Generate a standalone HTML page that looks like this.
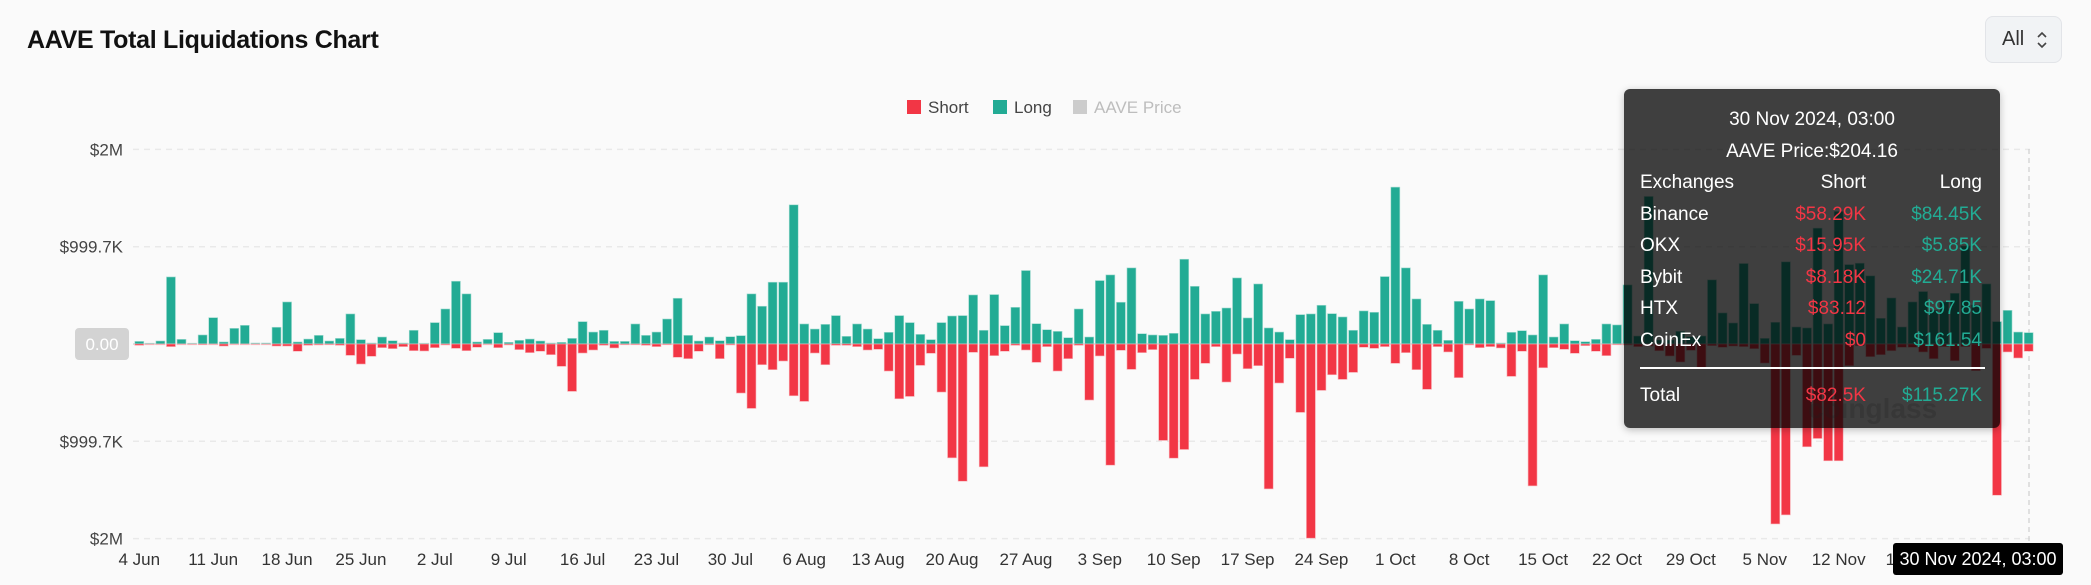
<!DOCTYPE html>
<html><head><meta charset="utf-8">
<style>
html,body{margin:0;padding:0;background:#fafafa;}
body{width:2091px;height:585px;position:relative;overflow:hidden;font-family:"Liberation Sans",sans-serif;}
#title{position:absolute;left:27px;top:26px;font-size:25px;font-weight:bold;color:#111;letter-spacing:-0.3px;}
#allbtn{position:absolute;left:1985px;top:16px;width:77px;height:47px;border:1px solid #e2e4e8;border-radius:8px;background:#f1f3f5;box-sizing:border-box;font-size:20px;color:#333;}
#allbtn span{position:absolute;left:16px;top:11px;}
#tooltip{position:absolute;left:1624px;top:89px;width:376px;height:339px;background:rgba(0,0,0,0.75);border-radius:6px;box-shadow:0 2px 8px rgba(0,0,0,0.25);color:#fff;font-size:19px;}
#tooltip div{position:absolute;white-space:nowrap;}
.r{color:#f23645}.g{color:#22ab94}
#badge{position:absolute;left:1893px;top:543px;width:170px;height:32px;background:#000;border-radius:3px;color:#fff;font-size:18px;line-height:32px;text-align:center;}
</style></head>
<body>
<div id="title">AAVE Total Liquidations Chart</div>
<div id="allbtn"><span>All</span>
<svg width="12" height="22" style="position:absolute;left:50px;top:12px"><path d="M2 8 L6 4 L10 8 M2 14 L6 18 L10 14" stroke="#444" stroke-width="1.6" fill="none"/></svg></div>
<svg id="chart" width="2091" height="585" style="position:absolute;left:0;top:0"></svg>
<div id="tooltip">
<div style="left:0;width:376px;text-align:center;top:20px">30 Nov 2024, 03:00</div>
<div style="left:0;width:376px;text-align:center;top:52px">AAVE Price:$204.16</div>
<div style="left:16px;top:83px">Exchanges</div><div style="right:134px;top:83px">Short</div><div style="right:18px;top:83px">Long</div>
<div style="left:16px;top:115px">Binance</div><div class="r" style="right:134px;top:115px">$58.29K</div><div class="g" style="right:18px;top:115px">$84.45K</div>
<div style="left:16px;top:146px">OKX</div><div class="r" style="right:134px;top:146px">$15.95K</div><div class="g" style="right:18px;top:146px">$5.85K</div>
<div style="left:16px;top:178px">Bybit</div><div class="r" style="right:134px;top:178px">$8.18K</div><div class="g" style="right:18px;top:178px">$24.71K</div>
<div style="left:16px;top:209px">HTX</div><div class="r" style="right:134px;top:209px">$83.12</div><div class="g" style="right:18px;top:209px">$97.85</div>
<div style="left:16px;top:241px">CoinEx</div><div class="r" style="right:134px;top:241px">$0</div><div class="g" style="right:18px;top:241px">$161.54</div>
<div style="left:16px;top:278px;width:345px;height:2px;background:#fff"></div>
<div style="left:16px;top:296px">Total</div><div class="r" style="right:134px;top:296px">$82.5K</div><div class="g" style="right:18px;top:296px">$115.27K</div>
</div>
<div id="badge">30 Nov 2024, 03:00</div>
<script>
const longVals=[27,7,31,689,48,7,93,271,21,161,192,10,10,172,432,21,51,89,31,58,309,45,10,72,34,10,141,7,220,360,645,515,21,48,117,17,38,51,31,10,17,58,230,123,141,27,27,206,89,123,257,470,89,31,72,34,75,86,515,388,635,635,1430,206,154,202,292,79,206,154,55,120,292,220,99,45,220,288,292,504,141,508,189,377,755,209,147,130,65,360,72,652,710,429,782,106,93,89,110,871,593,309,336,370,679,268,617,165,123,45,302,309,398,312,278,141,340,326,693,1612,782,463,202,141,38,439,360,463,446,10,120,137,93,710,72,206,34,24,48,206,196,607,82,1516,41,41,130,75,82,659,319,216,827,415,58,223,844,175,165,1190,206,1362,816,830,700,264,473,175,432,539,346,432,521,1008,401,617,230,346,123,117];
const shortVals=[14,0,0,27,0,0,7,0,21,0,0,0,0,21,21,75,14,10,7,14,117,206,127,38,48,27,69,72,38,10,45,69,34,0,38,10,58,89,75,110,230,487,93,62,14,41,7,7,14,27,7,137,151,75,7,151,10,504,662,213,264,175,532,590,93,213,14,14,27,62,55,278,563,539,220,96,494,1170,1410,86,1262,120,75,14,62,189,27,278,151,14,576,123,1245,65,261,89,58,991,1173,1084,364,199,27,391,103,254,223,1489,401,147,703,1995,477,316,364,292,34,45,27,199,89,264,466,27,82,346,10,38,27,41,333,75,1458,244,38,55,96,17,75,120,7,10,27,21,69,123,185,65,240,17,34,21,27,48,196,1849,1756,117,1056,971,1200,1200,223,17,130,110,69,34,34,82,151,27,172,27,274,45,1554,82,144,75];
const tickLabels=['4 Jun','11 Jun','18 Jun','25 Jun','2 Jul','9 Jul','16 Jul','23 Jul','30 Jul','6 Aug','13 Aug','20 Aug','27 Aug','3 Sep','10 Sep','17 Sep','24 Sep','1 Oct','8 Oct','15 Oct','22 Oct','29 Oct','5 Nov','12 Nov','19 Nov','26 Nov'];
const yTickVals=[1999.4,999.7,0,-999.7,-1999.4];
const yTickLabels=['$2M','$999.7K','0.00','$999.7K','$2M'];
const legendItems=['Short','Long','AAVE Price'];

const svg=document.getElementById('chart');
const NS='http://www.w3.org/2000/svg';
const X0=139.3,DX=10.555,Y0=344,YPX=194.6/1999.4;
const xs=i=>X0+i*DX;
const ys=v=>Y0-v*YPX;
function mk(t,a){const e=document.createElementNS(NS,t);for(const k in a)e.setAttribute(k,a[k]);svg.appendChild(e);return e;}

yTickVals.forEach((v,k)=>{
  const l=mk('line',{x1:133,x2:2030,y1:ys(v),y2:ys(v),stroke:v===0?'#d4d4d4':'#e9e9e9','stroke-width':1.5,'stroke-dasharray':'6,5'});
  
  
  if(v===0){
    const r=mk('rect',{x:75,y:ys(v)-16,width:54,height:32,rx:4,fill:'#d3d3d3'});
    
    
    const t=mk('text',{x:102,y:ys(v)+6,'text-anchor':'middle','font-size':17,fill:'#fff','font-family':'Liberation Sans'});
    t.textContent=yTickLabels[k];
    
    
  } else {
    const t=mk('text',{x:123,y:ys(v)+6,'text-anchor':'end','font-size':17,fill:'#444','font-family':'Liberation Sans'});
    t.textContent=yTickLabels[k];
    
    
  }
});
const vl=mk('line',{x1:2029,x2:2029,y1:149,y2:545,stroke:'#cfcfcf','stroke-width':1.2,'stroke-dasharray':'5,4'});



longVals.forEach((v,i)=>{
  const h=Math.max(v*YPX,0.8);
  const r=mk('rect',{x:xs(i)-4.5,y:Y0-h,width:9,height:h,fill:'#22ab94',stroke:'#a7ddd3','stroke-width':0.6});
  
  
});
shortVals.forEach((v,i)=>{
  const h=Math.max(v*YPX,0.8);
  const r=mk('rect',{x:xs(i)-4.5,y:Y0,width:9,height:h,fill:v>0?'#f23645':'#f6b7bd',stroke:'#f8b4ba','stroke-width':0.6});
  
  
});
tickLabels.forEach((s,k)=>{
  const t=mk('text',{x:xs(k*7),y:565,'text-anchor':'middle','font-size':17,fill:'#333','font-family':'Liberation Sans'});
  t.textContent=s;
  
  
});
const legColors=['#f23645','#22ab94','#cccccc'];
const legX=[907,993,1073];
legendItems.forEach((s,k)=>{
  const r=mk('rect',{x:legX[k],y:100,width:14,height:14,fill:legColors[k]});
  
  
  const t=mk('text',{x:legX[k]+21,y:113,'font-size':17,fill:k===2?'#bdbdbd':'#444','font-family':'Liberation Sans'});
  t.textContent=s;
  
  
});
const wm=mk('text',{x:1808,y:418,'font-size':28,fill:'rgba(120,120,120,0.25)','font-family':'Liberation Sans','font-weight':'bold'});
wm.textContent='coinglass';


</script>
</body></html>
